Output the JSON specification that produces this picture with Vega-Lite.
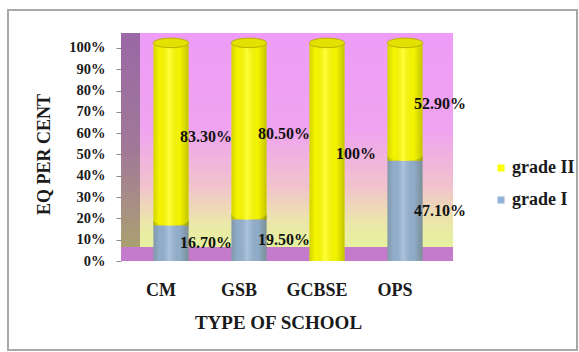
{
  "$schema": "https://vega.github.io/schema/vega-lite/v6.json",
  "width": 334,
  "height": 228,
  "autosize": {"type": "none"},
  "padding": {"left": 121, "top": 33, "right": 124, "bottom": 91},
  "background": "white",
  "config": {
    "view": {"stroke": null},
    "font": "Liberation Serif",
    "axisY": {
      "labelFont": "Liberation Serif",
      "labelFontSize": 14.5,
      "labelFontWeight": "bold",
      "labelColor": "#1a1a1a",
      "domain": false,
      "grid": false,
      "ticks": true,
      "tickSize": 5,
      "tickColor": "#8c8c8c",
      "labelPadding": 11,
      "titleFont": "Liberation Serif",
      "titleFontSize": 18,
      "titleFontWeight": "bold",
      "titleColor": "#1a1a1a"
    }
  },
  "datasets": {
    "grades": [
      {"school": "CM", "grade": "grade I", "value": 16.7},
      {"school": "CM", "grade": "grade II", "value": 83.3},
      {"school": "GSB", "grade": "grade I", "value": 19.5},
      {"school": "GSB", "grade": "grade II", "value": 80.5},
      {"school": "GCBSE", "grade": "grade I", "value": 0},
      {"school": "GCBSE", "grade": "grade II", "value": 100},
      {"school": "OPS", "grade": "grade I", "value": 47.1},
      {"school": "OPS", "grade": "grade II", "value": 52.9}
    ]
  },
  "layer": [
    {
      "data": {"values": [{}]},
      "layer": [
        {
          "mark": {"type": "rect", "fill": "white", "fillOpacity": 0, "stroke": "#A8A8A8", "strokeWidth": 2},
          "encoding": {
            "x": {"datum": -113, "type": "quantitative", "scale": {"domain": [0, 334], "nice": false, "zero": false}, "axis": null},
            "x2": {"datum": 456},
            "y": {"datum": 117.8, "type": "quantitative", "scale": {"domain": [0, 107], "nice": false},
                  "axis": {"values": [0, 10, 20, 30, 40, 50, 60, 70, 80, 90, 100], "labelExpr": "datum.value + '%'", "title": "EQ PER CENT", "titleAngle": -90, "titleAlign": "center", "titleBaseline": "middle", "titleX": -77, "titleY": 121}},
            "y2": {"datum": -41.8}
          }
        },
        {
          "mark": {
            "type": "rect",
            "fill": {
              "gradient": "linear", "x1": 0, "y1": 0, "x2": 0, "y2": 1,
              "stops": [
                {"offset": 0, "color": "#EE9CF7"},
                {"offset": 0.45, "color": "#EFA3F0"},
                {"offset": 0.72, "color": "#F1C3CC"},
                {"offset": 0.88, "color": "#EBE6AA"},
                {"offset": 1, "color": "#E6F29E"}
              ]
            }
          },
          "encoding": {
            "x": {"datum": 19, "type": "quantitative", "scale": {"domain": [0, 334], "nice": false, "zero": false}, "axis": null},
            "x2": {"datum": 332},
            "y": {"datum": 6.6, "type": "quantitative", "scale": {"domain": [0, 107], "nice": false},
                  "axis": {"values": [0, 10, 20, 30, 40, 50, 60, 70, 80, 90, 100], "labelExpr": "datum.value + '%'", "title": "EQ PER CENT", "titleAngle": -90, "titleAlign": "center", "titleBaseline": "middle", "titleX": -77, "titleY": 121}},
            "y2": {"datum": 107}
          }
        },
        {
          "mark": {
            "type": "rect",
            "fill": {
              "gradient": "linear", "x1": 0, "y1": 0, "x2": 0, "y2": 1,
              "stops": [
                {"offset": 0, "color": "#9A68A6"},
                {"offset": 0.5, "color": "#A07898"},
                {"offset": 0.75, "color": "#A88E84"},
                {"offset": 1, "color": "#A9A66A"}
              ]
            }
          },
          "encoding": {
            "x": {"datum": 0, "type": "quantitative", "scale": {"domain": [0, 334], "nice": false, "zero": false}, "axis": null},
            "x2": {"datum": 19},
            "y": {"datum": 0, "type": "quantitative", "scale": {"domain": [0, 107], "nice": false},
                  "axis": {"values": [0, 10, 20, 30, 40, 50, 60, 70, 80, 90, 100], "labelExpr": "datum.value + '%'", "title": "EQ PER CENT", "titleAngle": -90, "titleAlign": "center", "titleBaseline": "middle", "titleX": -77, "titleY": 121}},
            "y2": {"datum": 107}
          }
        },
        {
          "mark": {"type": "rect", "fill": "#C47BCB"},
          "encoding": {
            "x": {"datum": 0, "type": "quantitative", "scale": {"domain": [0, 334], "nice": false, "zero": false}, "axis": null},
            "x2": {"datum": 332},
            "y": {"datum": 0, "type": "quantitative", "scale": {"domain": [0, 107], "nice": false},
                  "axis": {"values": [0, 10, 20, 30, 40, 50, 60, 70, 80, 90, 100], "labelExpr": "datum.value + '%'", "title": "EQ PER CENT", "titleAngle": -90, "titleAlign": "center", "titleBaseline": "middle", "titleX": -77, "titleY": 121}},
            "y2": {"datum": 6.6}
          }
        }
      ]
    },
    {
      "data": {"name": "grades"},
      "transform": [
        {"filter": "datum.value > 0"},
        {"stack": "value", "groupby": ["school"], "sort": [{"field": "grade", "order": "ascending"}], "as": ["y0", "y1"]},
        {"calculate": "(datum.y0 + datum.y1) / 2", "as": "mid"},
        {"calculate": "datum.value == 100 ? '100%' : format(datum.value, '.2f') + '%'", "as": "label"}
      ],
      "encoding": {
        "x": {
          "field": "school",
          "type": "nominal",
          "sort": ["CM", "GSB", "GCBSE", "OPS"],
          "scale": {"paddingInner": 0.55, "paddingOuter": 0.416},
          "axis": {
            "title": "TYPE OF SCHOOL",
            "labelAngle": 0,
            "labelFont": "Liberation Serif",
            "labelFontSize": 18,
            "labelFontWeight": "bold",
            "labelColor": "#1a1a1a",
            "labelOffset": -10,
            "labelPadding": 20,
            "ticks": false,
            "domain": false,
            "grid": false,
            "titleFont": "Liberation Serif",
            "titleFontSize": 19,
            "titleFontWeight": "bold",
            "titleColor": "#1a1a1a",
            "titlePadding": 14,
            "titleX": 157
          }
        },
        "y": {"field": "y1", "type": "quantitative", "scale": {"domain": [0, 107], "nice": false},
              "axis": {"values": [0, 10, 20, 30, 40, 50, 60, 70, 80, 90, 100], "labelExpr": "datum.value + '%'", "title": "EQ PER CENT", "titleAngle": -90, "titleAlign": "center", "titleBaseline": "middle", "titleX": -77, "titleY": 121}}
      },
      "layer": [
        {
          "mark": {"type": "bar", "yOffset": -5},
          "encoding": {
            "y2": {"field": "y0"},
            "color": {
              "field": "grade",
              "type": "nominal",
              "scale": {"domain": ["grade II", "grade I"], "range": ["#FFFF00", "#95B3D7"]},
              "legend": {
                "orient": "none",
                "legendX": 371,
                "legendY": 126,
                "title": null,
                "symbolType": "square",
                "symbolSize": 50,
                "symbolStrokeWidth": 0,
                "labelFont": "Liberation Serif",
                "labelFontSize": 18,
                "labelFontWeight": "bold",
                "labelColor": "#1a1a1a",
                "labelOffset": 2,
                "rowPadding": 14
              }
            }
          }
        },
        {
          "mark": {
            "type": "bar",
            "yOffset": -5,
            "fill": {
              "gradient": "linear", "x1": 0, "y1": 0, "x2": 1, "y2": 0,
              "stops": [
                {"offset": 0, "color": "rgba(60,60,0,0.22)"},
                {"offset": 0.18, "color": "rgba(60,60,0,0.05)"},
                {"offset": 0.45, "color": "rgba(255,255,255,0.22)"},
                {"offset": 0.75, "color": "rgba(60,60,0,0.06)"},
                {"offset": 1, "color": "rgba(60,60,0,0.3)"}
              ]
            }
          },
          "encoding": {
            "y2": {"field": "y0"}
          }
        },
        {
          "mark": {"type": "point", "filled": true, "opacity": 1, "strokeWidth": 0, "shape": "M-1,0A1,0.27 0 1,0 1,0A1,0.27 0 1,0 -1,0Z", "size": 1232, "yOffset": -5},
          "encoding": {
            "y": {"field": "y0", "type": "quantitative", "scale": {"domain": [0, 107], "nice": false},
                  "axis": {"values": [0, 10, 20, 30, 40, 50, 60, 70, 80, 90, 100], "labelExpr": "datum.value + '%'", "title": "EQ PER CENT", "titleAngle": -90, "titleAlign": "center", "titleBaseline": "middle", "titleX": -77, "titleY": 121}},
            "color": {"field": "grade", "type": "nominal", "scale": {"domain": ["grade II", "grade I"], "range": ["#FFFF00", "#95B3D7"]}, "legend": null}
          }
        },
        {
          "mark": {
            "type": "point", "filled": true, "opacity": 1, "strokeWidth": 0,
            "shape": "M-1,0A1,0.27 0 1,0 1,0A1,0.27 0 1,0 -1,0Z", "size": 1232, "yOffset": -5,
            "fill": {
              "gradient": "linear", "x1": 0, "y1": 0, "x2": 1, "y2": 0,
              "stops": [
                {"offset": 0, "color": "rgba(60,60,0,0.22)"},
                {"offset": 0.18, "color": "rgba(60,60,0,0.05)"},
                {"offset": 0.45, "color": "rgba(255,255,255,0.22)"},
                {"offset": 0.75, "color": "rgba(60,60,0,0.06)"},
                {"offset": 1, "color": "rgba(60,60,0,0.3)"}
              ]
            }
          },
          "encoding": {
            "y": {"field": "y0", "type": "quantitative", "scale": {"domain": [0, 107], "nice": false},
                  "axis": {"values": [0, 10, 20, 30, 40, 50, 60, 70, 80, 90, 100], "labelExpr": "datum.value + '%'", "title": "EQ PER CENT", "titleAngle": -90, "titleAlign": "center", "titleBaseline": "middle", "titleX": -77, "titleY": 121}}
          }
        },
        {
          "transform": [{"filter": "datum.grade == 'grade II'"}],
          "mark": {"type": "point", "filled": true, "opacity": 1, "fill": "#E4E000", "stroke": "#B8B000", "strokeWidth": 1, "shape": "M-1,0A1,0.27 0 1,0 1,0A1,0.27 0 1,0 -1,0Z", "size": 1232, "yOffset": -5},
          "encoding": {}
        },
        {
          "mark": {"type": "text", "align": "left", "baseline": "middle", "dx": 9, "font": "Liberation Serif", "fontSize": 16, "fontWeight": "bold", "color": "#111111"},
          "encoding": {
            "y": {"field": "mid", "type": "quantitative", "scale": {"domain": [0, 107], "nice": false},
                  "axis": {"values": [0, 10, 20, 30, 40, 50, 60, 70, 80, 90, 100], "labelExpr": "datum.value + '%'", "title": "EQ PER CENT", "titleAngle": -90, "titleAlign": "center", "titleBaseline": "middle", "titleX": -77, "titleY": 121}},
            "text": {"field": "label"}
          }
        }
      ]
    }
  ],
  "resolve": {"scale": {"x": "independent"}, "axis": {"x": "independent"}}
}
